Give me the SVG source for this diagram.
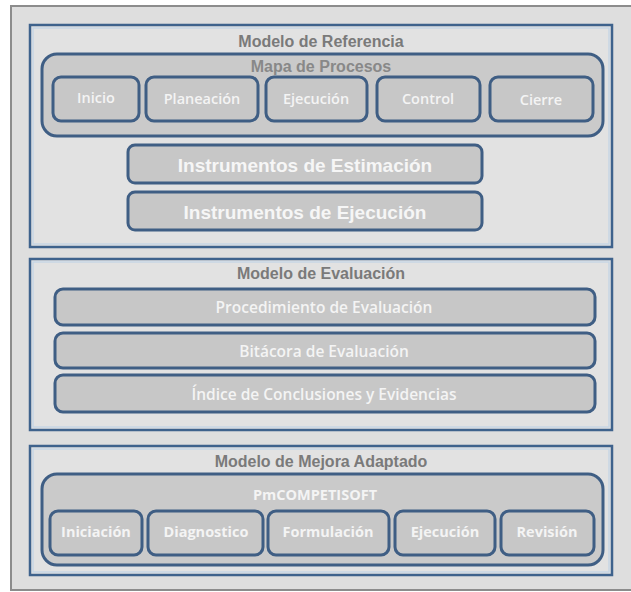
<svg xmlns="http://www.w3.org/2000/svg" width="631" height="592" viewBox="0 0 631 592">
<style>
.frame{fill:#dedede;stroke:#8c8c8c;stroke-width:2}
.sec{fill:#e2e2e2;stroke:#3e628c;stroke-width:2.5}
.hl{fill:none;stroke:#c2d4e6;stroke-width:1.2}
.grp{fill:#cacaca;stroke:#3f5e84;stroke-width:3}
.box{fill:#c7c7c7;stroke:#3f5e84;stroke-width:3}
.ttl{font-family:"Liberation Sans",Arial,sans-serif;font-weight:bold;font-size:16px;fill:#7a7a7a;text-anchor:middle}
.lbl{font-family:"Open Sans","Liberation Sans",sans-serif;font-weight:600;font-size:14.5px;fill:#f4f4f4;text-anchor:middle;dominant-baseline:central}
.elbl{font-family:"Open Sans","Liberation Sans",sans-serif;font-weight:600;font-size:15.5px;fill:#f4f4f4;text-anchor:middle;dominant-baseline:central}
.blbl{font-family:"Open Sans","Liberation Sans",sans-serif;font-weight:bold;font-size:14.5px;fill:#f4f4f4;text-anchor:middle;dominant-baseline:central}
.big{font-family:"Liberation Sans",Arial,sans-serif;font-weight:bold;font-size:19px;fill:#f6f6f6;text-anchor:middle;dominant-baseline:central}
</style>
<rect x="0" y="0" width="631" height="592" fill="#ffffff"/>
<rect class="frame" x="11" y="6" width="622" height="584"/>

<g id="modelo-referencia">
<rect class="sec" x="30" y="25" width="582" height="222"/>
<rect class="hl" x="33" y="28" width="576" height="216"/>
<text class="ttl" x="321" y="47">Modelo de Referencia</text>
</g>
<g id="mapa-procesos">
<rect class="grp" x="42" y="54" width="561" height="82" rx="15"/>
<text class="ttl" x="321" y="72" style="fill:#888888">Mapa de Procesos</text>
</g>
<g id="inicio"><rect class="box" x="53" y="77" width="86" height="44" rx="8"/><text class="lbl" x="96" y="97">Inicio</text></g>
<g id="planeacion"><rect class="box" x="146" y="77" width="112" height="44" rx="8"/><text class="lbl" x="202" y="98">Planeación</text></g>
<g id="ejecucion1"><rect class="box" x="266" y="77" width="101" height="44" rx="8"/><text class="lbl" x="316" y="98">Ejecución</text></g>
<g id="control"><rect class="box" x="377" y="77" width="103" height="44" rx="8"/><text class="lbl" x="428" y="98">Control</text></g>
<g id="cierre"><rect class="box" x="490" y="77" width="103" height="44" rx="8"/><text class="lbl" x="541" y="99">Cierre</text></g>
<g id="instr-estimacion"><rect class="box" x="128" y="145" width="354" height="38" rx="7"/><text class="big" x="305" y="165">Instrumentos de Estimación</text></g>
<g id="instr-ejecucion"><rect class="box" x="128" y="192" width="354" height="38" rx="7"/><text class="big" x="305" y="212">Instrumentos de Ejecución</text></g>

<g id="modelo-evaluacion">
<rect class="sec" x="30" y="259" width="582" height="171"/>
<rect class="hl" x="33" y="262" width="576" height="165"/>
<text class="ttl" x="321" y="279">Modelo de Evaluación</text>
</g>
<g id="procedimiento"><rect class="box" x="55" y="289" width="540" height="36" rx="8"/><text class="elbl" x="324" y="307">Procedimiento de Evaluación</text></g>
<g id="bitacora"><rect class="box" x="55" y="333" width="540" height="35" rx="8"/><text class="elbl" x="324" y="351">Bitácora de Evaluación</text></g>
<g id="indice"><rect class="box" x="55" y="375" width="540" height="37" rx="8"/><text class="elbl" x="324" y="394">Índice de Conclusiones y Evidencias</text></g>

<g id="modelo-mejora">
<rect class="sec" x="30" y="446" width="582" height="129"/>
<rect class="hl" x="33" y="449" width="576" height="123"/>
<text class="ttl" x="321" y="467">Modelo de Mejora Adaptado</text>
</g>
<g id="pmcompetisoft">
<rect class="grp" x="42" y="474" width="561" height="91" rx="15"/>
<text class="blbl" x="315" y="494">PmCOMPETISOFT</text>
</g>
<g id="iniciacion"><rect class="box" x="50" y="511" width="92" height="44" rx="8"/><text class="blbl" x="96" y="531">Iniciación</text></g>
<g id="diagnostico"><rect class="box" x="148" y="511" width="115" height="44" rx="8"/><text class="blbl" x="206" y="531">Diagnostico</text></g>
<g id="formulacion"><rect class="box" x="268" y="511" width="121" height="44" rx="8"/><text class="blbl" x="328" y="531">Formulación</text></g>
<g id="ejecucion2"><rect class="box" x="395" y="511" width="100" height="44" rx="8"/><text class="blbl" x="445" y="531">Ejecución</text></g>
<g id="revision"><rect class="box" x="501" y="511" width="93" height="44" rx="8"/><text class="blbl" x="547" y="531">Revisión</text></g>
<g id="connectors"></g>
</svg>
